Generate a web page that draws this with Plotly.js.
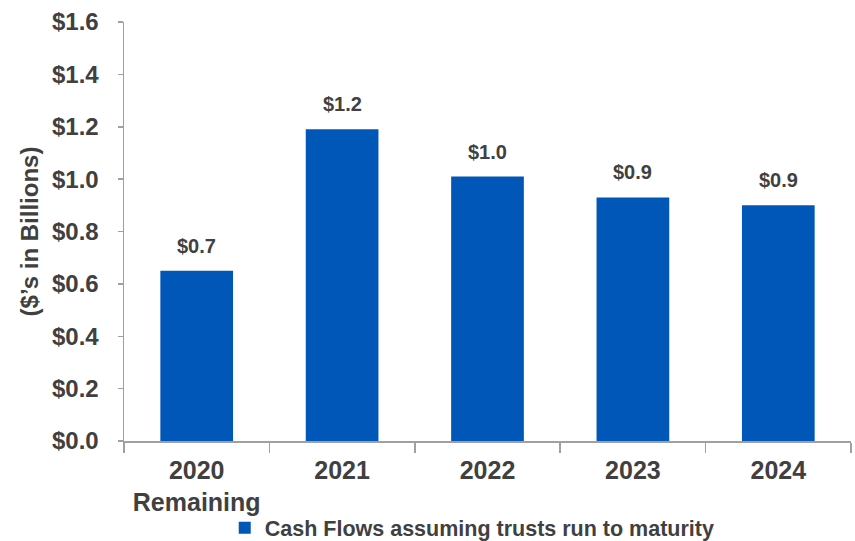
<!DOCTYPE html>
<html>
<head>
<meta charset="utf-8">
<script src="https://cdn.plot.ly/plotly-3.0.1.min.js"></script>
<style>html,body{margin:0;padding:0;background:#fff;}#chart{width:855px;height:541px;}</style>
</head>
<body>
<div id="chart"></div>
<script>
const categories = ["2020<br>Remaining", "2021", "2022", "2023", "2024"];
const values = [0.65, 1.19, 1.01, 0.93, 0.90];
const valueLabels = ["$0.7", "$1.2", "$1.0", "$0.9", "$0.9"];
const seriesName = "Cash Flows assuming trusts run to maturity";
const yTickVals = [0, 0.2, 0.4, 0.6, 0.8, 1.0, 1.2, 1.4, 1.6];

const FONT = "Liberation Sans, Arial, sans-serif";
const TXT = "#404040";

const trace = {
  type: "bar",
  x: categories,
  y: values,
  name: seriesName,
  marker: {color: "#0057b8", line: {width: 0}},
  showlegend: true,
  hoverinfo: "none"
};

const annotations = values.map((v, i) => ({
  x: i, y: v, xref: "x", yref: "y",
  text: valueLabels[i], showarrow: false,
  yanchor: "bottom", yshift: 12,
  font: {family: FONT, size: 20, color: TXT, weight: "bold"}
}));

const layout = {
  width: 855, height: 541,
  margin: {l: 124, r: 4, t: 22, b: 100, autoexpand: false},
  paper_bgcolor: "#fff", plot_bgcolor: "#fff",
  bargap: 0.5,
  font: {family: FONT, color: TXT},
  annotations: annotations,
  xaxis: {
    type: "category",
    categoryarray: categories, categoryorder: "array",
    tickangle: 0,
    showline: true, linecolor: "#a0a0a0", linewidth: 1.5,
    ticks: "outside", tickson: "boundaries", ticklen: 10, tickcolor: "#a0a0a0", tickwidth: 1.5,
    ticklabelstandoff: 6,
    tickfont: {family: FONT, size: 25, color: TXT, weight: "bold"},
    showgrid: false, zeroline: false, automargin: false
  },
  yaxis: {
    range: [0, 1.6],
    tickvals: yTickVals,
    tickformat: "$.1f",
    showline: true, linecolor: "#a0a0a0", linewidth: 1.5,
    ticks: "outside", ticklen: 5, tickcolor: "#a0a0a0", tickwidth: 1.5,
    ticklabelstandoff: 14,
    tickfont: {family: FONT, size: 24, color: TXT, weight: "bold"},
    showgrid: false, zeroline: false, automargin: false,
    title: {text: "($’s in Billions)", font: {family: FONT, size: 24, color: TXT, weight: "bold"}, standoff: 6}
  },
  showlegend: true,
  legend: {
    orientation: "h", x: 0.479, xanchor: "center", y: -0.207, yanchor: "middle",
    bgcolor: "rgba(0,0,0,0)",
    font: {family: FONT, size: 21.5, color: TXT, weight: "bold"},
    itemwidth: 30
  }
};

Plotly.newPlot("chart", [trace], layout, {staticPlot: true, displayModeBar: false});
</script>
</body>
</html>
